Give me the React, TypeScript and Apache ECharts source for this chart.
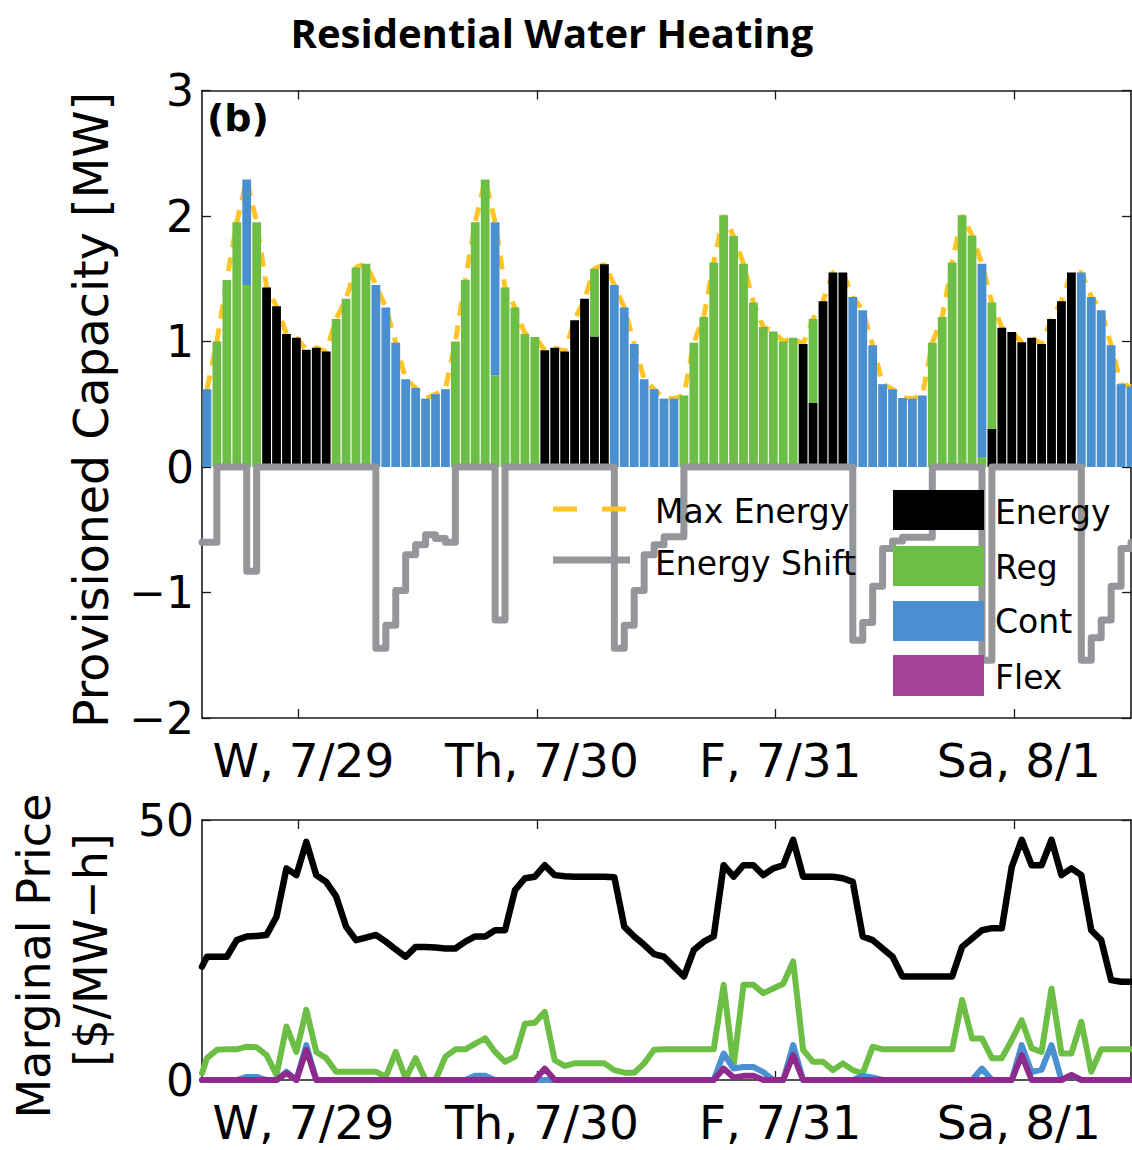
import React, { useEffect, useRef } from "react";
import * as echarts from "echarts";

// ---------- data ----------
const dayTickHours = [9.7, 33.7, 57.7, 81.7];
const dayLabels = ["W, 7/29", "Th, 7/30", "F, 7/31", "Sa, 8/1"];
const capTicks = [-2, -1, 0, 1, 2, 3];
const priceTicks = [0, 50];

// provisioned capacity [MW], one value per hour (94 hours)
const energyCap = [
  0, 0, 0, 0, 0, 0, 1.43, 1.28, 1.06, 1.03, 0.935, 0.95, 0.92,
  0, 0, 0, 0, 0, 0, 0, 0, 0, 0, 0, 0, 0, 0, 0, 0, 0, 0, 0, 0, 0,
  0.93, 0.95, 0.92, 1.17, 1.34, 1.04, 1.615,
  0, 0, 0, 0, 0, 0, 0, 0, 0, 0, 0, 0, 0, 0, 0, 0, 0, 0, 0,
  0.98, 0.51, 1.32, 1.55, 1.55,
  0, 0, 0, 0, 0, 0, 0, 0, 0, 0, 0, 0, 0, 0,
  0.305, 1.11, 1.075, 0.995, 1.03, 0.98, 1.18, 1.32, 1.55,
  0, 0, 0, 0, 0, 0,
];
const regCap = [
  0, 1.0, 1.49, 1.95, 1.45, 1.95,
  0, 0, 0, 0, 0, 0, 0,
  1.18, 1.34, 1.59, 1.62,
  0, 0, 0, 0, 0, 0, 0, 0,
  1.0, 1.49, 1.95, 2.29, 0.73, 1.43, 1.27, 1.06, 1.035,
  0, 0, 0, 0, 0,
  0.54,
  0, 0, 0, 0, 0, 0, 0, 0,
  0.57, 0.99, 1.195, 1.63, 2.005, 1.84, 1.62, 1.31, 1.115, 1.08, 1.0, 1.03,
  0, 0.67,
  0, 0, 0, 0, 0, 0, 0, 0, 0, 0, 0,
  0.99, 1.195, 1.63, 2.005, 1.845, 0.08, 1.005,
  0, 0, 0, 0, 0, 0, 0, 0, 0, 0, 0, 0, 0, 0,
];
const contCap = [
  0.62, 0, 0, 0, 0.84,
  0, 0, 0, 0, 0, 0, 0, 0, 0, 0, 0, 0,
  1.45, 1.27, 0.99, 0.7, 0.63, 0.545, 0.58, 0.62,
  0, 0, 0, 0, 1.22,
  0, 0, 0, 0, 0, 0, 0, 0, 0, 0, 0,
  1.45, 1.27, 0.98, 0.7, 0.62, 0.545, 0.545,
  0, 0, 0, 0, 0, 0, 0, 0, 0, 0, 0, 0, 0, 0, 0, 0, 0,
  1.355, 1.25, 0.97, 0.66, 0.62, 0.55, 0.545, 0.57,
  0, 0, 0, 0, 0, 1.54,
  0, 0, 0, 0, 0, 0, 0, 0, 0,
  1.55, 1.355, 1.25, 0.97, 0.66, 0.64,
];
const flexCap = [
  0, 0, 0, 0, 0, 0, 0, 0, 0, 0, 0, 0, 0, 0, 0, 0, 0, 0, 0, 0, 0, 0, 0, 0,
  0, 0, 0, 0, 0, 0, 0, 0, 0, 0, 0, 0, 0, 0, 0, 0, 0, 0, 0, 0, 0, 0, 0, 0,
  0, 0, 0, 0, 0, 0, 0, 0, 0, 0, 0, 0, 0, 0, 0, 0, 0, 0, 0, 0, 0, 0, 0, 0,
  0, 0, 0, 0, 0, 0, 0, 0, 0, 0, 0, 0, 0, 0, 0, 0, 0, 0, 0, 0, 0, 0,
];
const maxEnergy = [
  0.62, 1.0, 1.49, 1.95, 2.29, 1.95, 1.43, 1.28, 1.06, 1.03, 0.935, 0.95, 0.92,
  1.18, 1.34, 1.59, 1.62, 1.45, 1.27, 0.99, 0.7, 0.63, 0.545, 0.58,
  0.62, 1.0, 1.49, 1.95, 2.29, 1.95, 1.43, 1.27, 1.06, 1.035, 0.93, 0.95, 0.92,
  1.17, 1.34, 1.58, 1.615, 1.45, 1.27, 0.98, 0.7, 0.62, 0.545, 0.545,
  0.57, 0.99, 1.195, 1.63, 2.005, 1.84, 1.62, 1.31, 1.115, 1.08, 1.0, 1.03,
  0.98, 1.18, 1.32, 1.55, 1.55, 1.355, 1.25, 0.97, 0.66, 0.62, 0.55, 0.545,
  0.57, 0.99, 1.195, 1.63, 2.005, 1.845, 1.62, 1.31, 1.11, 1.075, 0.995, 1.03,
  0.98, 1.18, 1.32, 1.55, 1.55, 1.355, 1.25, 0.97, 0.66, 0.64,
];
const energyShift = [
  -0.6, 0, 0, 0, -0.83,
  0, 0, 0, 0, 0, 0, 0, 0, 0, 0, 0, 0,
  -1.445, -1.26, -0.985, -0.7, -0.62, -0.54, -0.57, -0.6,
  0, 0, 0, 0, -1.22,
  0, 0, 0, 0, 0, 0, 0, 0, 0, 0, 0,
  -1.445, -1.26, -0.985, -0.7, -0.62, -0.555, -0.555,
  0, 0, 0, 0, 0, 0, 0, 0, 0, 0, 0, 0, 0, 0, 0, 0, 0,
  -1.38, -1.24, -0.95, -0.65, -0.59, -0.56, -0.56, -0.56,
  0, 0, 0, 0, 0, -1.54,
  0, 0, 0, 0, 0, 0, 0, 0, 0,
  -1.54, -1.36, -1.22, -0.95, -0.65, -0.6,
];

// marginal prices [$/MW-h]; first entry is the value at the left edge of the plot
const energyPrice = [
  21.8,
  23.7, 23.7, 23.7, 26.9, 27.6, 27.7, 27.9, 31.4, 40.7, 39.4, 45.8, 39.4, 38.1, 35.3,
  29.5, 26.9, 27.4, 27.9, 26.6, 25.1, 23.7, 25.6, 25.6, 25.5, 25.3, 25.3, 26.6, 27.6,
  27.6, 28.8, 28.8, 36.5, 38.8, 39.1, 41.3, 39.4, 39.2, 39.1, 39.1, 39.1, 39.1, 39.0,
  29.5, 27.6, 26.0, 24.2, 23.7, 21.8, 19.9, 25.0, 26.6, 27.6, 41.3, 39.1, 41.3, 41.3,
  39.4, 40.7, 41.3, 46.2, 39.1, 39.1, 39.1, 39.1, 38.8, 38.1, 27.6, 26.9, 25.3, 23.7,
  19.9, 19.9, 19.9, 19.9, 19.9, 19.9, 25.6, 27.2, 28.8, 29.2, 29.2, 41.0, 46.2, 41.3,
  41.3, 46.2, 39.4, 40.7, 39.4, 28.8, 26.9, 19.2, 18.9, 18.9,
];
const regPrice = [
  1.3,
  4.2, 5.8, 5.9, 5.9, 6.4, 6.3, 4.8, 1.0, 10.3, 5.4, 13.5, 5.4, 4.2, 1.6,
  1.6, 1.6, 1.6, 1.6, 0.6, 5.4, 0.3, 4.2, 0, 0, 4.5, 5.9, 5.9, 7.0,
  8.0, 5.4, 3.5, 4.5, 10.8, 11.0, 13.1, 3.8, 2.7, 3.2, 3.2, 3.2, 3.2, 1.9,
  1.4, 1.4, 3.2, 5.8, 5.9, 5.9, 5.9, 5.9, 5.9, 5.9, 18.3, 2.6, 18.3, 18.3,
  16.7, 17.6, 18.5, 22.8, 5.8, 3.5, 3.5, 1.9, 3.2, 1.9, 1.3, 6.4, 5.9, 5.9,
  5.9, 5.9, 5.9, 5.9, 5.9, 5.9, 15.4, 8.0, 8.0, 4.2, 4.2, 7.7, 11.5, 6.1,
  5.4, 17.6, 5.1, 5.1, 11.2, 1.6, 5.9, 5.9, 5.9, 5.9,
];
const contPrice = [
  0,
  0, 0, 0, 0, 0.6, 0.6, 0, 0, 1.6, 0, 6.7, 0, 0, 0,
  0, 0, 0, 0, 0, 0, 0, 0, 0, 0, 0, 0, 0, 0.8,
  0.8, 0, 0, 0, 0, 0, 0, 0, 0, 0, 0, 0, 0, 0,
  0, 0, 0, 0, 0, 0, 0, 0, 0, 0, 5.1, 2.2, 2.5, 2.5,
  1.5, 0, 0, 6.7, 0, 0, 0, 0, 0, 0, 0.8, 0.5, 0, 0,
  0, 0, 0, 0, 0, 0, 0, 0, 2.2, 0, 0, 0, 6.7, 1.5,
  2.0, 6.7, 0, 0.8, 0, 0, 0, 0, 0, 0,
];
const flexPrice = [
  0,
  0, 0, 0, 0, 0, 0, 0, 0, 1.3, 0, 5.8, 0, 0, 0,
  0, 0, 0, 0, 0, 0, 0, 0, 0, 0, 0, 0, 0, 0,
  0, 0, 0, 0, 0, 0, 2.2, 0, 0, 0, 0, 0, 0, 0,
  0, 0, 0, 0, 0, 0, 0, 0, 0, 0, 2.2, 0.5, 0.8, 0.8,
  0, 0, 0, 4.8, 0, 0, 0, 0, 0, 0, 0, 0, 0, 0,
  0, 0, 0, 0, 0, 0, 0, 0, 0, 0, 0, 0, 4.8, 0,
  0, 0, 0, 1.0, 0, 0, 0, 0, 0, 0,
];

// ---------- styling ----------
const FONT = "'DejaVu Sans', sans-serif";
const C_ENERGY = "#000000";
const C_REG = "#6DBE45";
const C_CONT = "#4A8FD0";
const C_FLEX = "#A3449A";
const C_FLEX_LINE = "#8E2A8C";
const C_MAX = "#FFC527";
const C_SHIFT = "#95969A";
const X_MAX = 93.5;

const hourPairs = (arr: number[]) => arr.map((v, k) => [k + 0.5, v]);
// value first, hour second, so that stacking runs along the value (y) dimension
const barPairs = (arr: number[]) => arr.map((v, k) => [v, k + 0.5]);
const pricePairs = (arr: number[]) => arr.map((v, i) => [i === 0 ? 0 : i - 0.5, v]);

const dayLabelFor = (v: number) => {
  const i = dayTickHours.findIndex((t) => Math.abs(t - v) < 1e-6);
  return i >= 0 ? dayLabels[i] : "";
};

const axisLineStyle = { show: true, onZero: false, lineStyle: { color: "#1a1a1a", width: 1.6 } };
const tickStyle = { color: "#1a1a1a", width: 1.3 };

function xAxes(gridIndex: number) {
  return [
    {
      gridIndex,
      type: "value",
      min: 0,
      max: X_MAX,
      position: "bottom",
      axisLine: axisLineStyle,
      axisTick: { show: true, inside: true, length: 9, customValues: dayTickHours, lineStyle: tickStyle },
      axisLabel: {
        show: true,
        customValues: dayTickHours,
        formatter: (v: number) => dayLabelFor(v),
        fontFamily: FONT,
        fontSize: 47,
        color: "#000",
        margin: 19,
        padding: [0, 0, 0, 10],
      },
      splitLine: { show: false },
    },
    {
      gridIndex,
      type: "value",
      min: 0,
      max: X_MAX,
      position: "top",
      axisLine: axisLineStyle,
      axisTick: { show: true, inside: true, length: 9, customValues: dayTickHours, lineStyle: tickStyle },
      axisLabel: { show: false },
      splitLine: { show: false },
    },
  ];
}

function yAxes(gridIndex: number, ticks: number[]) {
  const min = ticks[0];
  const max = ticks[ticks.length - 1];
  const interval = ticks[1] - ticks[0];
  return [
    {
      gridIndex,
      type: "value",
      min,
      max,
      interval,
      position: "left",
      axisLine: axisLineStyle,
      axisTick: { show: true, inside: true, length: 9, lineStyle: tickStyle },
      axisLabel: {
        show: true,
        fontFamily: FONT,
        fontSize: 44,
        color: "#000",
        margin: 8,
        formatter: (v: number) => String(v).replace("-", "\u2212"),
      },
      splitLine: { show: false },
    },
    {
      gridIndex,
      type: "value",
      min,
      max,
      interval,
      position: "right",
      axisLine: axisLineStyle,
      axisTick: { show: true, inside: true, length: 9, lineStyle: tickStyle },
      axisLabel: { show: false },
      splitLine: { show: false },
    },
  ];
}

function barSeries(name: string, data: number[], color: string) {
  return {
    name,
    type: "bar",
    xAxisIndex: 0,
    yAxisIndex: 0,
    stack: "cap",
    barWidth: 8.8,
    data: barPairs(data),
    encode: { x: 1, y: 0 },
    itemStyle: { color },
    z: 2,
  };
}

function priceLine(name: string, data: number[], color: string, width: number, z: number) {
  return {
    name,
    type: "line",
    xAxisIndex: 2,
    yAxisIndex: 2,
    data: pricePairs(data),
    symbol: "none",
    lineStyle: { color, width, join: "round", cap: "round" },
    z,
  };
}

function legendGraphics() {
  const txt = (text: string, x: number, y: number) => ({
    type: "text",
    x,
    y,
    z: 100,
    style: { text, fontFamily: FONT, fontSize: 33, fill: "#000", align: "left", verticalAlign: "middle" },
  });
  const box = (y: number, h: number, color: string) => ({
    type: "rect",
    z: 100,
    shape: { x: 893, y, width: 91, height: h },
    style: { fill: color },
  });
  return [
    { type: "line", z: 100, shape: { x1: 553, y1: 509, x2: 577, y2: 509 }, style: { stroke: C_MAX, lineWidth: 5 } },
    { type: "line", z: 100, shape: { x1: 602, y1: 509, x2: 626, y2: 509 }, style: { stroke: C_MAX, lineWidth: 5 } },
    { type: "line", z: 100, shape: { x1: 553, y1: 560, x2: 630, y2: 560 }, style: { stroke: C_SHIFT, lineWidth: 7 } },
    txt("Max Energy", 655, 511),
    txt("Energy Shift", 655, 563),
    box(490, 40, C_ENERGY),
    box(546, 40, C_REG),
    box(601, 40, C_CONT),
    box(655, 41, C_FLEX),
    txt("Energy", 995, 512),
    txt("Reg", 995, 567),
    txt("Cont", 995, 621),
    txt("Flex", 995, 677),
  ];
}

export default function App() {
  const ref = useRef<HTMLDivElement>(null);
  useEffect(() => {
    if (!ref.current) return;
    const chart = echarts.init(ref.current, null, { renderer: "svg" });
    const option: any = {
      animation: false,
      backgroundColor: "#ffffff",
      grid: [
        { left: 202, top: 90.5, width: 929, height: 627.5 },
        { left: 202, top: 820, width: 929, height: 260 },
      ],
      xAxis: [...xAxes(0), ...xAxes(1)],
      yAxis: [...yAxes(0, capTicks), ...yAxes(1, priceTicks)],
      series: [
        {
          name: "Max Energy",
          type: "line",
          xAxisIndex: 0,
          yAxisIndex: 0,
          data: hourPairs(maxEnergy),
          symbol: "none",
          lineStyle: { color: C_MAX, width: 5, type: [14, 10] },
          z: 1,
        },
        barSeries("Energy", energyCap, C_ENERGY),
        barSeries("Reg", regCap, C_REG),
        barSeries("Cont", contCap, C_CONT),
        barSeries("Flex", flexCap, C_FLEX),
        {
          name: "Energy Shift",
          type: "line",
          xAxisIndex: 0,
          yAxisIndex: 0,
          step: "end",
          data: [[0, energyShift[0]], ...hourPairs(energyShift), [X_MAX + 1, energyShift[energyShift.length - 1]]],
          symbol: "none",
          lineStyle: { color: C_SHIFT, width: 7, join: "round", cap: "round" },
          z: 3,
        },
        priceLine("Energy price", energyPrice, "#000000", 6.5, 3),
        priceLine("Reg price", regPrice, C_REG, 6, 4),
        priceLine("Cont price", contPrice, C_CONT, 6, 5),
        priceLine("Flex price", flexPrice, C_FLEX_LINE, 6, 6),
      ],
      graphic: [
        {
          type: "text",
          x: 552,
          y: 32,
          style: {
            text: "Residential Water Heating",
            fontFamily: "'Open Sans', sans-serif",
            fontWeight: "bold",
            fontSize: 40,
            fill: "#000",
            align: "center",
            verticalAlign: "middle",
          },
        },
        {
          type: "text",
          x: 207,
          y: 118,
          z: 100,
          style: { text: "(b)", fontFamily: FONT, fontWeight: "bold", fontSize: 38, fill: "#000", align: "left", verticalAlign: "middle" },
        },
        {
          type: "text",
          x: 91,
          y: 410,
          rotation: Math.PI / 2,
          style: { text: "Provisioned Capacity [MW]", fontFamily: FONT, fontSize: 47.5, fill: "#000", align: "center", verticalAlign: "middle" },
        },
        {
          type: "text",
          x: 34,
          y: 956,
          rotation: Math.PI / 2,
          style: { text: "Marginal Price", fontFamily: FONT, fontSize: 46, fill: "#000", align: "center", verticalAlign: "middle" },
        },
        {
          type: "text",
          x: 91,
          y: 950,
          rotation: Math.PI / 2,
          style: { text: "[$/MW\u2212h]", fontFamily: FONT, fontSize: 46, fill: "#000", align: "center", verticalAlign: "middle" },
        },
        ...legendGraphics(),
      ],
    };
    chart.setOption(option);
    return () => chart.dispose();
  }, []);
  return <div ref={ref} style={{ position: "fixed", left: 0, top: 0, width: 1132, height: 1150, background: "#fff" }} />;
}
